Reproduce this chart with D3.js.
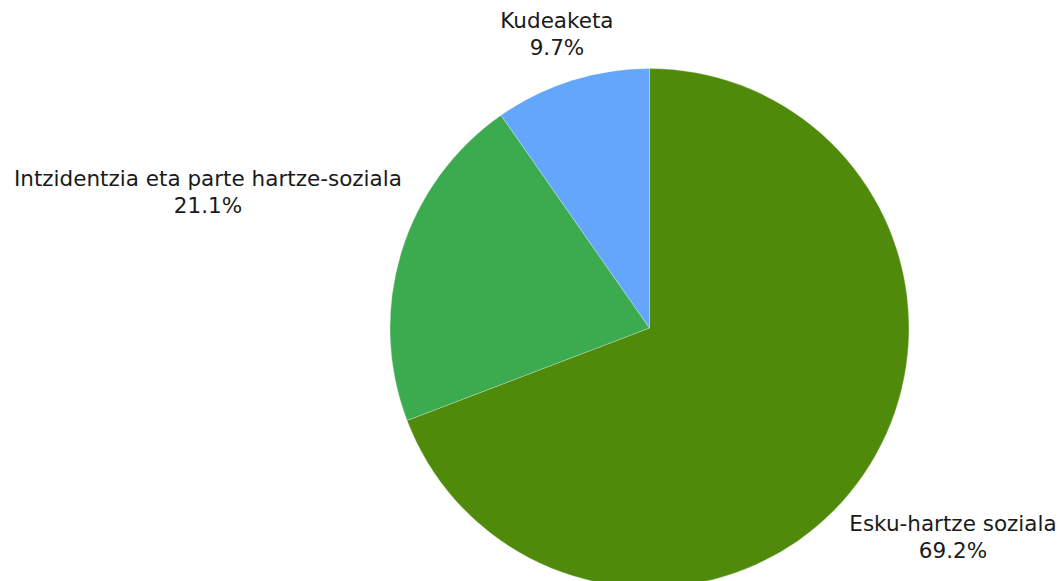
<!DOCTYPE html>
<html><head><meta charset="utf-8">
<script src="https://cdn.jsdelivr.net/npm/d3@7"></script>
<style>html,body{margin:0;padding:0;background:#fff;overflow:hidden}</style>
</head><body>
<svg id="chart" width="1059" height="581"></svg>
<script>
const categories = ["Esku-hartze soziala", "Intzidentzia eta parte hartze-soziala", "Kudeaketa"];
const values = [69.2, 21.1, 9.7];
const colors = ["#4f8a0b", "#3cab4f", "#64a6fb"];

const W = 1059, H = 581;
const cx = 649.5, cy = 328, R = 259.5, gap = 11;
const svg = d3.select("#chart");
const g = svg.append("g").attr("transform", `translate(${cx},${cy})`);

const data = categories.map((c, i) => ({name: c, value: values[i], color: colors[i]}));
const pie = d3.pie().value(d => d.value).sort(null);
const arc = d3.arc().innerRadius(0).outerRadius(R);
const arcs = pie(data);

g.selectAll("path").data(arcs).enter().append("path")
  .attr("d", arc)
  .attr("fill", d => d.data.color)
  .attr("stroke", "#ffffff")
  .attr("stroke-opacity", 0.5)
  .attr("stroke-width", 0.5);

const fmt = d3.format(".1f");
const lg = g.append("g");
arcs.forEach(a => {
  const mid = (a.startAngle + a.endAngle) / 2;
  const ux = Math.sin(mid), uy = -Math.cos(mid);
  const t = lg.append("text")
    .attr("text-anchor", "middle")
    .attr("font-family", "'DejaVu Sans', sans-serif")
    .attr("font-size", 21.5)
    .attr("fill", "#1a1a1a");
  t.append("tspan").attr("x", 0).attr("y", 0).text(a.data.name);
  t.append("tspan").attr("x", 0).attr("y", 27).text(fmt(a.data.value) + "%");
  const bb = t.node().getBBox();
  let d = R;
  for (let k = 0; k < 2000; k++) {
    const ox = ux * d, oy = uy * d;
    const x0 = ox + bb.x, x1 = ox + bb.x + bb.width;
    const y0 = oy - bb.height / 2, y1 = oy + bb.height / 2;
    const nx = Math.max(x0, Math.min(0, x1)), ny = Math.max(y0, Math.min(0, y1));
    if (Math.hypot(nx, ny) >= R + gap) break;
    d += 0.5;
  }
  const ox = ux * d, oy = uy * d;
  t.attr("transform", `translate(${ox},${oy - bb.height / 2 - bb.y})`);
});
</script>
</body></html>
